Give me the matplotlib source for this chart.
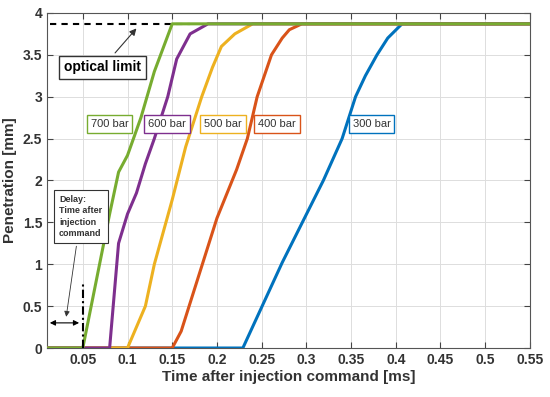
import matplotlib
matplotlib.use("Agg")
import matplotlib.pyplot as plt

# penetration curves (time in ms, penetration in mm)
t_700 = [0.01, 0.05, 0.08, 0.09, 0.10, 0.115, 0.13, 0.15, 0.55]
p_700 = [0.0, 0.0, 1.6, 2.1, 2.3, 2.75, 3.3, 3.87, 3.87]
t_600 = [0.01, 0.08, 0.09, 0.10, 0.11, 0.12, 0.13, 0.145, 0.155, 0.17, 0.19, 0.55]
p_600 = [0.0, 0.0, 1.25, 1.6, 1.85, 2.2, 2.5, 3.0, 3.45, 3.75, 3.87, 3.87]
t_500 = [0.01, 0.10, 0.12, 0.13, 0.15, 0.165, 0.183, 0.195, 0.205, 0.22, 0.24, 0.55]
p_500 = [0.0, 0.0, 0.5, 1.0, 1.77, 2.4, 3.0, 3.35, 3.6, 3.75, 3.87, 3.87]
t_400 = [0.01, 0.15, 0.16, 0.20, 0.222, 0.234, 0.245, 0.261, 0.273, 0.281, 0.295, 0.55]
p_400 = [0.0, 0.0, 0.2, 1.55, 2.13, 2.5, 3.0, 3.5, 3.7, 3.8, 3.87, 3.87]
t_300 = [0.01, 0.229, 0.251, 0.273, 0.296, 0.319, 0.34, 0.355, 0.366, 0.379, 0.391, 0.407, 0.55]
p_300 = [0.0, 0.0, 0.51, 1.02, 1.51, 2.0, 2.5, 3.0, 3.25, 3.5, 3.7, 3.87, 3.87]

labels = ["300 bar", "400 bar", "500 bar", "600 bar", "700 bar"]
label_x = [0.373, 0.267, 0.207, 0.144, 0.08]
optical_limit = 3.87
x_ticks = [0.05, 0.1, 0.15, 0.2, 0.25, 0.3, 0.35, 0.4, 0.45, 0.5, 0.55]
y_ticks = [0, 0.5, 1, 1.5, 2, 2.5, 3, 3.5, 4]

colors = ["#0072BD", "#D95319", "#EDB120", "#7E2F8E", "#77AC30"]
series = [(t_300, p_300), (t_400, p_400), (t_500, p_500), (t_600, p_600), (t_700, p_700)]

plt.rcParams["font.family"] = ["Liberation Sans", "DejaVu Sans"]
fig = plt.figure(figsize=(5.5, 3.97), dpi=100)
ax = fig.add_axes([0.0855, 0.1234, 0.878, 0.844])

for (t, p), c in zip(series, colors):
    ax.plot(t, p, color=c, lw=2.2, zorder=3)

ax.plot([0.013, 0.17], [optical_limit, optical_limit], color="black", lw=1.5, ls=(0, (3, 2.5)), zorder=2)
ax.plot([0.05, 0.05], [0, 0.79], color="black", lw=1.5, ls=(0, (4, 1.5, 1, 1.5)), zorder=4)

for text, x, c in zip(labels, label_x, colors):
    ax.text(x, 2.67, text, ha="center", va="center", fontsize=8, color="#333333", zorder=5,
            bbox=dict(boxstyle="square,pad=0.35", fc="white", ec=c, lw=1))

ax.annotate("optical limit", xy=(0.112, 3.84), xytext=(0.072, 3.35), ha="center", va="center",
            fontsize=10, fontweight="bold", zorder=5,
            bbox=dict(boxstyle="square,pad=0.35", fc="white", ec="#333333", lw=1),
            arrowprops=dict(arrowstyle="-|>", color="#333333", lw=0.8, mutation_scale=10))
ax.annotate("Delay:\nTime after\ninjection\ncommand", xy=(0.031, 0.34), xytext=(0.0235, 1.57),
            ha="left", va="center", fontsize=6.5, fontweight="bold", color="#333333", linespacing=1.3, zorder=5,
            bbox=dict(boxstyle="square,pad=0.6", fc="white", ec="#333333", lw=0.8),
            arrowprops=dict(arrowstyle="-|>", color="#333333", lw=0.6, mutation_scale=8))
ax.annotate("", xy=(0.01, 0.3), xytext=(0.049, 0.3),
            arrowprops=dict(arrowstyle="<|-|>", color="black", lw=0.8, mutation_scale=8))

ax.set_xlim(0.01, 0.55)
ax.set_ylim(0, 4)
ax.set_xticks(x_ticks)
ax.set_xticklabels([f"{v:g}" for v in x_ticks])
ax.set_yticks(y_ticks)
ax.set_yticklabels([f"{v:g}" for v in y_ticks])
ax.tick_params(direction="in", top=True, right=True, labelsize=10, length=4, color="#444444")
for lab in ax.get_xticklabels() + ax.get_yticklabels():
    lab.set_fontweight("bold")
    lab.set_color("#333333")
ax.grid(True, color="#dddddd", lw=0.7)
for s in ax.spines.values():
    s.set_color("#555555")
ax.set_xlabel("Time after injection command [ms]", fontsize=11, fontweight="bold", color="#333333", labelpad=2)
ax.set_ylabel("Penetration [mm]", fontsize=11, fontweight="bold", color="#333333", labelpad=4)

fig.savefig("out.png", dpi=100)
